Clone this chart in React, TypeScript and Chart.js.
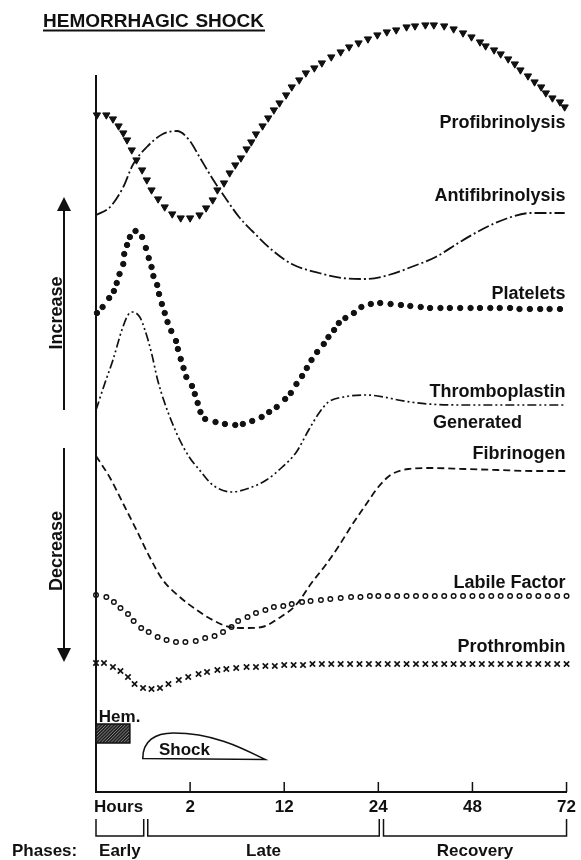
import React, { useEffect, useRef } from "react";
import { Chart, registerables } from "chart.js";

Chart.register(...registerables);

const FONT = '"Liberation Sans", Arial, sans-serif';
const INK = "#111";

// x positions are along the (non-linear) time axis: 10 units per labelled interval
const TICK_POS = [2.4, 10, 20, 30, 40, 50];
const TICK_LABELS = ["Hours", "2", "12", "24", "48", "72"];

// Profibrinolysis (filled triangles)
const PROFIB_X = [0.1, 1.1, 1.8, 2.4, 2.9, 3.3, 3.8, 4.3, 4.9, 5.4, 5.9, 6.6, 7.3, 8.1, 9.0, 10.0, 11.0, 11.7, 12.4, 12.9, 13.6, 14.2, 14.8, 15.4, 16.0, 16.5, 17.0, 17.7, 18.3, 18.9, 19.5, 20.2, 20.8, 21.6, 22.3, 23.2, 24.0, 25.0, 26.0, 26.9, 27.9, 28.9, 29.9, 30.9, 31.9, 33.0, 33.9, 35.0, 35.9, 37.0, 38.0, 39.0, 39.9, 40.8, 41.4, 42.3, 43.0, 43.8, 44.5, 45.1, 45.9, 46.6, 47.3, 47.8, 48.5, 49.3, 49.8];
const PROFIB_Y = [67.7, 67.7, 67.3, 66.6, 65.9, 65.2, 64.2, 63.2, 62.2, 61.2, 60.2, 59.3, 58.5, 57.8, 57.4, 57.4, 57.7, 58.4, 59.2, 60.2, 60.9, 61.9, 62.7, 63.4, 64.3, 65.0, 65.8, 66.6, 67.4, 68.2, 68.9, 69.7, 70.5, 71.2, 71.9, 72.4, 72.9, 73.5, 74.0, 74.5, 74.9, 75.3, 75.7, 76.0, 76.2, 76.5, 76.6, 76.7, 76.7, 76.6, 76.3, 75.9, 75.5, 75.0, 74.6, 74.2, 73.8, 73.3, 72.8, 72.2, 71.6, 71.0, 70.5, 69.9, 69.4, 69.0, 68.5];

// Antifibrinolysis (long dash - dot)
const ANTI_X = [0, 1.5, 2.9, 3.9, 5.4, 7.1, 8.6, 9.9, 11.0, 12.4, 13.9, 15.2, 16.6, 18.7, 20.8, 23.7, 26.1, 28.7, 31.1, 33.5, 36.1, 38.5, 40.9, 43.5, 46.2, 49.8];
const ANTI_Y = [57.7, 58.5, 60.5, 62.7, 64.5, 65.8, 66.1, 65.2, 63.5, 61.3, 59.2, 57.5, 56.1, 54.2, 52.8, 51.9, 51.4, 51.3, 51.7, 52.5, 53.5, 54.9, 56.2, 57.3, 57.9, 57.9];

// Platelets (filled dots)
const PLT_X = [0.1, 0.7, 1.4, 1.9, 2.2, 2.5, 2.9, 3.0, 3.3, 3.6, 4.2, 4.9, 5.3, 5.6, 5.9, 6.1, 6.5, 6.7, 7.0, 7.3, 7.6, 8.0, 8.5, 8.7, 9.0, 9.3, 9.6, 10.2, 10.5, 10.8, 11.1, 11.6, 12.7, 13.7, 14.8, 15.6, 16.6, 17.6, 18.4, 19.2, 20.1, 20.7, 21.3, 21.9, 22.4, 22.9, 23.5, 24.2, 24.7, 25.3, 25.8, 26.5, 27.4, 28.2, 29.2, 30.2, 31.3, 32.4, 33.4, 34.5, 35.5, 36.6, 37.6, 38.7, 39.8, 40.8, 41.9, 42.9, 44.0, 45.0, 46.1, 47.2, 48.2, 49.3];
const PLT_Y = [47.9, 48.5, 49.4, 50.1, 50.9, 51.8, 52.8, 53.8, 54.7, 55.5, 56.1, 55.5, 54.4, 53.4, 52.5, 51.6, 50.7, 49.8, 48.8, 47.9, 47.0, 46.1, 45.1, 44.3, 43.3, 42.4, 41.5, 40.6, 39.8, 38.9, 38.0, 37.3, 37.0, 36.8, 36.7, 36.8, 37.1, 37.5, 38.0, 38.5, 39.3, 39.9, 40.8, 41.6, 42.4, 43.2, 44.0, 44.8, 45.5, 46.2, 46.9, 47.4, 47.9, 48.5, 48.8, 48.9, 48.8, 48.7, 48.6, 48.5, 48.4, 48.4, 48.4, 48.4, 48.4, 48.4, 48.4, 48.4, 48.4, 48.3, 48.3, 48.3, 48.3, 48.3];

// Thromboplastin Generated (dash - dot - dot)
const THR_X = [0, 0.95, 1.8, 2.75, 3.4, 3.9, 4.65, 5.2, 5.9, 6.55, 7.3, 8.1, 8.9, 9.9, 11.0, 12.4, 14.4, 16.3, 18.1, 19.8, 21.3, 22.6, 23.7, 24.7, 26.3, 28.7, 30.6, 32.1, 35.3, 39.5, 49.8];
const THR_Y = [38.2, 40.9, 43.2, 46.2, 47.7, 48.0, 47.5, 46.2, 43.9, 41.2, 38.9, 36.9, 35.2, 33.5, 32.2, 30.7, 30.0, 30.4, 31.2, 32.5, 34.0, 36.2, 37.9, 39.0, 39.5, 39.7, 39.5, 39.2, 38.8, 38.7, 38.7];

// Fibrinogen (dashed)
const FIB_X = [0, 1.5, 2.85, 4.3, 5.7, 7.1, 8.9, 10.7, 12.4, 14.2, 16.0, 17.65, 19.45, 21.25, 22.9, 24.4, 25.8, 27.2, 28.65, 30.0, 31.3, 33.2, 35.6, 39.2, 42.7, 46.2, 50];
const FIB_Y = [33.6, 31.4, 28.9, 26.2, 23.5, 21.2, 19.5, 18.2, 17.2, 16.5, 16.4, 16.5, 17.4, 18.7, 20.9, 22.7, 24.6, 26.7, 28.7, 30.5, 31.7, 32.3, 32.4, 32.3, 32.2, 32.1, 32.1];

// Labile Factor (open circles)
const LAB_X = [0, 1.1, 1.9, 2.6, 3.4, 4.0, 4.8, 5.6, 6.55, 7.5, 8.5, 9.5, 10.6, 11.6, 12.6, 13.5, 14.4, 15.1, 16.1, 17.0, 18.0, 18.9, 19.9, 20.8, 21.9, 22.8, 23.9, 24.9, 26.0, 27.1, 28.1, 29.1, 30.0, 31.0, 32.0, 33.0, 34.0, 35.0, 36.0, 37.0, 38.0, 39.0, 40.0, 41.0, 42.0, 43.0, 44.0, 45.0, 46.0, 47.0, 48.0, 49.0, 50.0];
const LAB_Y = [19.7, 19.5, 19.0, 18.4, 17.8, 17.1, 16.4, 16.0, 15.5, 15.2, 15.0, 15.0, 15.1, 15.4, 15.6, 16.0, 16.5, 17.1, 17.5, 17.9, 18.2, 18.5, 18.6, 18.8, 19.0, 19.1, 19.2, 19.3, 19.4, 19.5, 19.5, 19.6, 19.6, 19.6, 19.6, 19.6, 19.6, 19.6, 19.6, 19.6, 19.6, 19.6, 19.6, 19.6, 19.6, 19.6, 19.6, 19.6, 19.6, 19.6, 19.6, 19.6, 19.6];

// Prothrombin (x marks)
const PRO_X = [0, 0.85, 1.8, 2.6, 3.4, 4.1, 5.0, 5.9, 6.8, 7.7, 8.8, 9.8, 10.9, 11.8, 12.9, 13.85, 14.9, 16.0, 17.0, 18, 19, 20, 21, 22, 23, 24, 25, 26, 27, 28, 29, 30, 31, 32, 33, 34, 35, 36, 37, 38, 39, 40, 41, 42, 43, 44, 45, 46, 47, 48, 49, 50];
const PRO_Y = [12.9, 12.9, 12.5, 12.1, 11.5, 10.8, 10.4, 10.3, 10.4, 10.8, 11.2, 11.5, 11.8, 12.0, 12.2, 12.3, 12.4, 12.5, 12.5, 12.6, 12.6, 12.7, 12.7, 12.7, 12.8, 12.8, 12.8, 12.8, 12.8, 12.8, 12.8, 12.8, 12.8, 12.8, 12.8, 12.8, 12.8, 12.8, 12.8, 12.8, 12.8, 12.8, 12.8, 12.8, 12.8, 12.8, 12.8, 12.8, 12.8, 12.8, 12.8, 12.8];

// Annotation anchors (in data units)
const Y_AXIS_TOP = 71.7;
const SERIES_LABELS = [
  { text: "Profibrinolysis", x: 49.9, y: 66.4, align: "right" },
  { text: "Antifibrinolysis", x: 49.9, y: 59.1, align: "right" },
  { text: "Platelets", x: 49.9, y: 49.3, align: "right" },
  { text: "Thromboplastin", x: 49.9, y: 39.5, align: "right" },
  { text: "Generated", x: 35.8, y: 36.4, align: "left" },
  { text: "Fibrinogen", x: 49.9, y: 33.3, align: "right" },
  { text: "Labile Factor", x: 49.9, y: 20.4, align: "right" },
  { text: "Prothrombin", x: 49.9, y: 14.0, align: "right" },
];
const ARROW_UP = [59.5, 38.2];
const ARROW_DOWN = [34.4, 13.0];
const ARROW_TEXT = [
  { text: "Increase", y: 47.9 },
  { text: "Decrease", y: 24.1 },
];
const HEM_X = [0, 3.6];
const HEM_Y = [4.9, 6.8];
const SHOCK_X = [4.97, 17.97];
const SHOCK_Y = [3.35, 5.9];
const PHASES = [
  { label: "Early", from: 0, to: 5.07 },
  { label: "Late", from: 5.5, to: 30.1 },
  { label: "Recovery", from: 30.55, to: 50 },
];

const pts = (xs: number[], ys: number[]) => xs.map((x, i) => ({ x, y: ys[i] }));

const decorPlugin = {
  id: "decor",
  afterDraw(chart: any) {
    const { ctx, chartArea: ca, scales } = chart;
    const px = (v: number) => scales.x.getPixelForValue(v);
    const py = (v: number) => scales.y.getPixelForValue(v);
    ctx.save();
    ctx.fillStyle = INK;
    ctx.strokeStyle = INK;
    ctx.setLineDash([]);

    // y axis line
    ctx.lineWidth = 2;
    ctx.beginPath();
    ctx.moveTo(ca.left, py(Y_AXIS_TOP));
    ctx.lineTo(ca.left, ca.bottom);
    ctx.stroke();

    // inward tick marks
    ctx.lineWidth = 1.5;
    TICK_POS.forEach((t, i) => {
      if (TICK_LABELS[i] === "Hours") return;
      ctx.beginPath();
      ctx.moveTo(px(t), ca.bottom);
      ctx.lineTo(px(t), ca.bottom - 10);
      ctx.stroke();
    });

    // title
    ctx.font = `bold 19px ${FONT}`;
    ctx.textBaseline = "alphabetic";
    ctx.textAlign = "left";
    ctx.fillText("HEMORRHAGIC", 43, 27);
    ctx.textAlign = "right";
    ctx.fillText("SHOCK", 264, 27);
    ctx.lineWidth = 2;
    ctx.beginPath();
    ctx.moveTo(43, 30.5);
    ctx.lineTo(265, 30.5);
    ctx.stroke();

    // series labels
    ctx.font = `bold 18px ${FONT}`;
    SERIES_LABELS.forEach((l) => {
      ctx.textAlign = l.align;
      ctx.fillText(l.text, px(l.x), py(l.y));
    });

    // increase / decrease arrows
    const ax = ca.left - 32;
    ctx.lineWidth = 2;
    const upTip = py(ARROW_UP[0]);
    ctx.beginPath();
    ctx.moveTo(ax, upTip + 10);
    ctx.lineTo(ax, py(ARROW_UP[1]));
    ctx.stroke();
    ctx.beginPath();
    ctx.moveTo(ax, upTip);
    ctx.lineTo(ax + 7, upTip + 14);
    ctx.lineTo(ax - 7, upTip + 14);
    ctx.closePath();
    ctx.fill();
    const dnTip = py(ARROW_DOWN[1]);
    ctx.beginPath();
    ctx.moveTo(ax, py(ARROW_DOWN[0]));
    ctx.lineTo(ax, dnTip - 10);
    ctx.stroke();
    ctx.beginPath();
    ctx.moveTo(ax, dnTip);
    ctx.lineTo(ax + 7, dnTip - 14);
    ctx.lineTo(ax - 7, dnTip - 14);
    ctx.closePath();
    ctx.fill();
    ctx.font = `bold 18px ${FONT}`;
    ARROW_TEXT.forEach((t) => {
      ctx.save();
      ctx.translate(ax - 2, py(t.y));
      ctx.rotate(-Math.PI / 2);
      ctx.textAlign = "center";
      ctx.textBaseline = "alphabetic";
      ctx.fillText(t.text, 0, 0);
      ctx.restore();
    });

    // Hem. bar (hatched)
    const hx0 = px(HEM_X[0]), hx1 = px(HEM_X[1]);
    const hy0 = py(HEM_Y[1]), hy1 = py(HEM_Y[0]);
    ctx.save();
    ctx.beginPath();
    ctx.rect(hx0, hy0, hx1 - hx0, hy1 - hy0);
    ctx.clip();
    ctx.fillStyle = "#222";
    ctx.fillRect(hx0, hy0, hx1 - hx0, hy1 - hy0);
    ctx.strokeStyle = "#999";
    ctx.lineWidth = 0.8;
    for (let k = -40; k < 80; k += 3.2) {
      ctx.beginPath();
      ctx.moveTo(hx0 + k, hy1);
      ctx.lineTo(hx0 + k + (hy1 - hy0), hy0);
      ctx.stroke();
    }
    ctx.restore();
    ctx.lineWidth = 1.5;
    ctx.strokeRect(hx0, hy0, hx1 - hx0, hy1 - hy0);
    ctx.font = `bold 17px ${FONT}`;
    ctx.textAlign = "left";
    ctx.fillText("Hem.", px(0.3), py(7.0));

    // Shock outline
    const sx0 = px(SHOCK_X[0]), sx1 = px(SHOCK_X[1]);
    const sb = py(SHOCK_Y[0]), st = py(SHOCK_Y[1]);
    const sw = sx1 - sx0;
    ctx.lineWidth = 1.6;
    ctx.beginPath();
    ctx.moveTo(sx0, sb);
    ctx.bezierCurveTo(sx0, st + 8, sx0 + sw * 0.1, st, sx0 + sw * 0.25, st);
    ctx.bezierCurveTo(sx0 + sw * 0.6, st, sx0 + sw * 0.85, sb - 8, sx1, sb + 1);
    ctx.closePath();
    ctx.stroke();
    ctx.textAlign = "center";
    ctx.fillText("Shock", px(9.4), py(3.7));

    // phases
    const bt = ca.bottom + 27, bb = ca.bottom + 44;
    ctx.lineWidth = 1.5;
    PHASES.forEach((p) => {
      ctx.beginPath();
      ctx.moveTo(px(p.from), bt);
      ctx.lineTo(px(p.from), bb);
      ctx.lineTo(px(p.to), bb);
      ctx.lineTo(px(p.to), bt);
      ctx.stroke();
    });
    ctx.font = `bold 17px ${FONT}`;
    ctx.textAlign = "center";
    PHASES.forEach((p) => {
      ctx.fillText(p.label, px((p.from + p.to) / 2), ca.bottom + 64);
    });
    ctx.textAlign = "left";
    ctx.fillText("Phases:", 12, ca.bottom + 64);

    ctx.restore();
  },
};

export default function App() {
  const ref = useRef<HTMLCanvasElement>(null);
  useEffect(() => {
    const lineBase = {
      borderColor: INK,
      backgroundColor: INK,
      pointRadius: 0,
      fill: false,
      cubicInterpolationMode: "monotone",
      clip: false,
    };
    const chart = new Chart(ref.current as HTMLCanvasElement, {
      type: "line",
      data: {
        datasets: [
          {
            label: "Profibrinolysis",
            data: pts(PROFIB_X, PROFIB_Y),
            showLine: false,
            pointStyle: "triangle",
            rotation: 180,
            pointRadius: 4.2,
            pointBackgroundColor: INK,
            pointBorderColor: INK,
            pointBorderWidth: 1,
            clip: false,
          },
          { ...lineBase, label: "Antifibrinolysis", data: pts(ANTI_X, ANTI_Y), borderWidth: 1.8, borderDash: [12, 3, 2, 3] },
          {
            label: "Platelets",
            data: pts(PLT_X, PLT_Y),
            showLine: false,
            pointStyle: "circle",
            pointRadius: 2.7,
            pointBackgroundColor: INK,
            pointBorderColor: INK,
            pointBorderWidth: 1,
            clip: false,
          },
          { ...lineBase, label: "Thromboplastin Generated", data: pts(THR_X, THR_Y), borderWidth: 1.7, borderDash: [9, 3, 2, 3, 2, 3] },
          { ...lineBase, label: "Fibrinogen", data: pts(FIB_X, FIB_Y), borderWidth: 1.8, borderDash: [7, 4] },
          {
            label: "Labile Factor",
            data: pts(LAB_X, LAB_Y),
            showLine: false,
            pointStyle: "circle",
            pointRadius: 2.3,
            pointBackgroundColor: "#fff",
            pointBorderColor: INK,
            pointBorderWidth: 1.4,
            clip: false,
          },
          {
            label: "Prothrombin",
            data: pts(PRO_X, PRO_Y),
            showLine: false,
            pointStyle: "crossRot",
            pointRadius: 3.8,
            pointBorderColor: INK,
            pointBorderWidth: 1.6,
            clip: false,
          },
        ] as any,
      },
      options: {
        responsive: false,
        animation: false,
        events: [],
        layout: { padding: { left: 96, right: 12, top: 12, bottom: 48 } },
        plugins: { legend: { display: false }, tooltip: { enabled: false }, title: { display: false } },
        scales: {
          x: {
            type: "linear",
            min: 0,
            max: 50,
            afterBuildTicks: (s: any) => {
              s.ticks = TICK_POS.map((v) => ({ value: v }));
            },
            afterFit: (s: any) => {
              s.height = 20;
            },
            grid: { display: false, drawTicks: false },
            border: { display: true, color: INK, width: 2 },
            ticks: {
              color: INK,
              autoSkip: false,
              maxRotation: 0,
              padding: 5,
              font: { family: FONT, size: 17, weight: "bold" },
              callback: (v: any) => {
                const i = TICK_POS.indexOf(Number(v));
                return i >= 0 ? TICK_LABELS[i] : "";
              },
            },
          },
          y: { type: "linear", min: 0, max: 78, display: false },
        },
      } as any,
      plugins: [decorPlugin],
    });
    return () => chart.destroy();
  }, []);
  return (
    <div style={{ position: "absolute", left: 0, top: 0, width: 581, height: 860, background: "#fff" }}>
      <canvas ref={ref} width={581} height={860} style={{ display: "block" }} />
    </div>
  );
}
